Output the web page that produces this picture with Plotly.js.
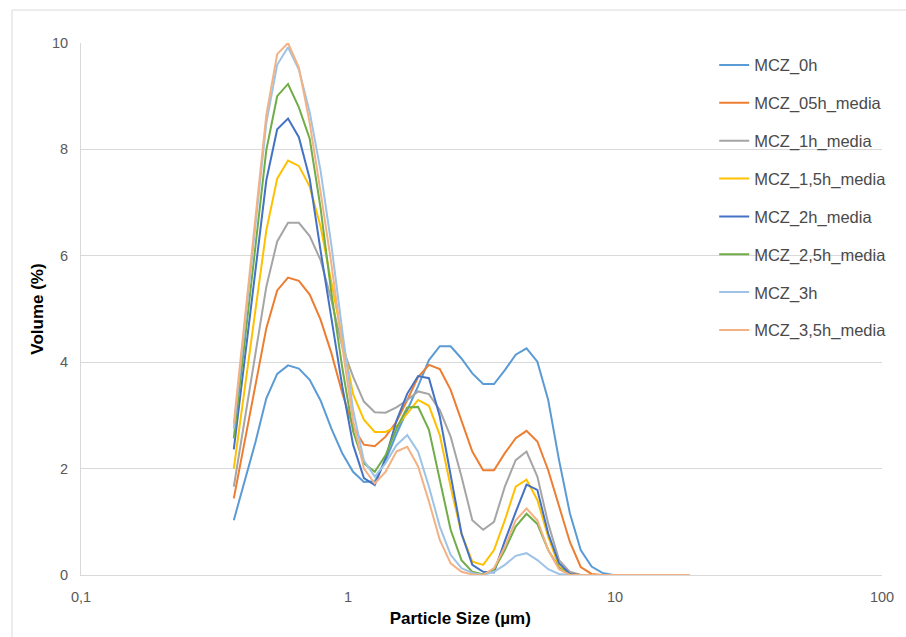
<!DOCTYPE html>
<html>
<head>
<meta charset="utf-8">
<script src="https://cdn.plot.ly/plotly-3.0.1.min.js"></script>
<style>
  html, body { margin: 0; padding: 0; background: #ffffff; }
  #chart { width: 906px; height: 637px; }
</style>
</head>
<body>
<div id="chart"></div>
<script>
// Particle size classes (µm)
const particleSize = [
  0.3735, 0.4102, 0.4503, 0.4945, 0.5430, 0.5962, 0.6546, 0.7188, 0.7893, 0.8666,
  0.9515, 1.0447, 1.1471, 1.2595, 1.3829, 1.5185, 1.6672, 1.8306, 2.0100, 2.2070,
  2.4233, 2.6607, 2.9215, 3.2078, 3.5221, 3.8673, 4.2462, 4.6624, 5.1192, 5.6209,
  6.1717, 6.7765, 7.4406, 8.1697, 8.9703, 9.8492, 10.814, 11.874, 13.038, 14.315,
  15.718, 17.258, 18.950
];

const seriesNames = [
  "MCZ_0h", "MCZ_05h_media", "MCZ_1h_media", "MCZ_1,5h_media",
  "MCZ_2h_media", "MCZ_2,5h_media", "MCZ_3h", "MCZ_3,5h_media"
];

const mcz0h = [
  1.03, 1.75, 2.50, 3.32, 3.78, 3.94, 3.88, 3.67, 3.28, 2.75,
  2.29, 1.94, 1.75, 1.76, 2.15, 2.65, 3.10, 3.55, 4.04, 4.30,
  4.30, 4.07, 3.79, 3.59, 3.59, 3.85, 4.14, 4.26, 4.01, 3.29,
  2.16, 1.16, 0.47, 0.16, 0.04, 0, 0, 0, 0, 0,
  0, 0, 0
];
const mcz05h = [
  1.44, 2.50, 3.57, 4.64, 5.35, 5.59, 5.53, 5.27, 4.80, 4.17,
  3.42, 2.78, 2.45, 2.42, 2.60, 2.88, 3.29, 3.72, 3.95, 3.87,
  3.48, 2.91, 2.32, 1.97, 1.97, 2.29, 2.57, 2.71, 2.51, 1.97,
  1.28, 0.62, 0.15, 0.02, 0, 0, 0, 0, 0, 0,
  0, 0, 0
];
const mcz1h = [
  1.66, 2.90, 4.15, 5.42, 6.27, 6.62, 6.62, 6.37, 5.92, 5.17,
  4.29, 3.73, 3.26, 3.06, 3.05, 3.15, 3.29, 3.45, 3.40, 3.10,
  2.60, 1.85, 1.03, 0.85, 1.00, 1.66, 2.16, 2.32, 1.85, 0.97,
  0.28, 0.06, 0, 0, 0, 0, 0, 0, 0, 0,
  0, 0, 0
];
const mcz15h = [
  2.00, 3.50, 5.00, 6.48, 7.45, 7.79, 7.69, 7.30, 6.55, 5.50,
  4.40, 3.40, 2.92, 2.69, 2.69, 2.79, 3.04, 3.29, 3.18, 2.63,
  1.66, 0.78, 0.25, 0.19, 0.47, 1.03, 1.66, 1.79, 1.41, 0.72,
  0.16, 0.02, 0, 0, 0, 0, 0, 0, 0, 0,
  0, 0, 0
];
const mcz2h = [
  2.36, 4.05, 5.75, 7.42, 8.38, 8.58, 8.23, 7.45, 6.10, 4.80,
  3.55, 2.45, 1.82, 1.69, 2.20, 2.90, 3.41, 3.74, 3.70, 2.98,
  1.85, 0.78, 0.19, 0.06, 0.05, 0.64, 1.18, 1.70, 1.60, 0.78,
  0.22, 0.02, 0, 0, 0, 0, 0, 0, 0, 0,
  0, 0, 0
];
const mcz25h = [
  2.57, 4.40, 6.20, 7.99, 9.00, 9.23, 8.79, 8.20, 6.90, 5.30,
  3.90, 2.70, 2.10, 1.94, 2.25, 2.75, 3.15, 3.16, 2.73, 1.79,
  0.85, 0.28, 0.06, 0.01, 0.10, 0.47, 0.91, 1.15, 0.96, 0.47,
  0.13, 0, 0, 0, 0, 0, 0, 0, 0, 0,
  0, 0, 0
];
const mcz3h = [
  2.75, 4.67, 6.58, 8.50, 9.59, 9.92, 9.50, 8.70, 7.60, 6.20,
  4.60, 3.10, 2.15, 1.85, 2.10, 2.44, 2.63, 2.32, 1.66, 0.91,
  0.38, 0.13, 0.04, 0, 0.06, 0.19, 0.36, 0.41, 0.28, 0.11,
  0.02, 0, 0, 0, 0, 0, 0, 0, 0, 0,
  0, 0, 0
];
const mcz35h = [
  2.85, 4.78, 6.72, 8.65, 9.79, 10.00, 9.54, 8.50, 7.20, 5.85,
  4.30, 2.90, 2.00, 1.72, 1.94, 2.32, 2.41, 2.04, 1.38, 0.66,
  0.22, 0.06, 0.01, 0, 0.13, 0.53, 1.03, 1.25, 1.03, 0.47,
  0.11, 0, 0, 0, 0, 0, 0, 0, 0, 0,
  0, 0, 0
];

const xTickVals = [0.1, 1, 10, 100];
const xTickText = ["0,1", "1", "10", "100"];
const yTickVals = [0, 2, 4, 6, 8, 10];

const seriesValues = [mcz0h, mcz05h, mcz1h, mcz15h, mcz2h, mcz25h, mcz3h, mcz35h];
const seriesColors = ["#5B9BD5", "#ED7D31", "#A5A5A5", "#FFC000",
                      "#4472C4", "#70AD47", "#9DC3E6", "#F4B183"];

const FONT = "Liberation Sans, Arial, Helvetica, sans-serif";

const traces = seriesNames.map((name, k) => ({
  type: "scatter",
  mode: "lines",
  name: name,
  legendgroup: "g" + k,
  x: particleSize,
  y: seriesValues[k],
  line: { color: seriesColors[k], width: 2 },
  hoverinfo: "x+y+name"
}));

const NB = "\u00a0";

const layout = {
  width: 906,
  height: 637,
  paper_bgcolor: "#ffffff",
  plot_bgcolor: "#ffffff",
  margin: { l: 81, r: 24, t: 43, b: 62, autoexpand: false },
  font: { family: FONT, size: 14, color: "#595959" },
  showlegend: true,
  legend: {
    x: 0.7905, y: 0.991, xanchor: "left", yanchor: "top",
    bgcolor: "rgba(255,255,255,0)",
    font: { family: FONT, size: 16.5, color: "#4a4a4a" },
    tracegroupgap: 13.4,
    itemwidth: 30
  },
  xaxis: {
    type: "log",
    range: [-1, 2],
    tickvals: xTickVals,
    ticktext: xTickText,
    showgrid: false,
    zeroline: false,
    showline: true,
    linecolor: "#d9d9d9",
    linewidth: 1,
    ticks: "",
    ticklabelstandoff: 9,
    tickfont: { family: FONT, size: 14.5, color: "#595959" },
    title: {
      text: "<b>Particle Size (µm)" + NB.repeat(9) + "</b>",
      font: { family: FONT, size: 17, color: "#000000" },
      standoff: 7
    },
    automargin: false
  },
  yaxis: {
    range: [0, 10],
    tickvals: yTickVals,
    showgrid: true,
    gridcolor: "#d9d9d9",
    gridwidth: 1,
    zeroline: false,
    showline: true,
    linecolor: "#d9d9d9",
    linewidth: 1,
    ticks: "",
    ticklabelstandoff: 9,
    tickfont: { family: FONT, size: 14.5, color: "#595959" },
    title: {
      text: "<b>Volume (%)</b>",
      font: { family: FONT, size: 17, color: "#000000" },
      standoff: 4
    },
    automargin: false
  },
  shapes: [
    { type: "line", xref: "paper", yref: "paper",
      x0: -0.0861, x1: -0.0861, y0: 1.062, y1: -0.2,
      line: { color: "#d9d9d9", width: 1 } },
    { type: "line", xref: "paper", yref: "paper",
      x0: -0.0861, x1: 1.1, y0: 1.062, y1: 1.062,
      line: { color: "#d9d9d9", width: 1 } }
  ]
};

Plotly.newPlot("chart", traces, layout, { displayModeBar: false, staticPlot: true });
</script>
</body>
</html>
